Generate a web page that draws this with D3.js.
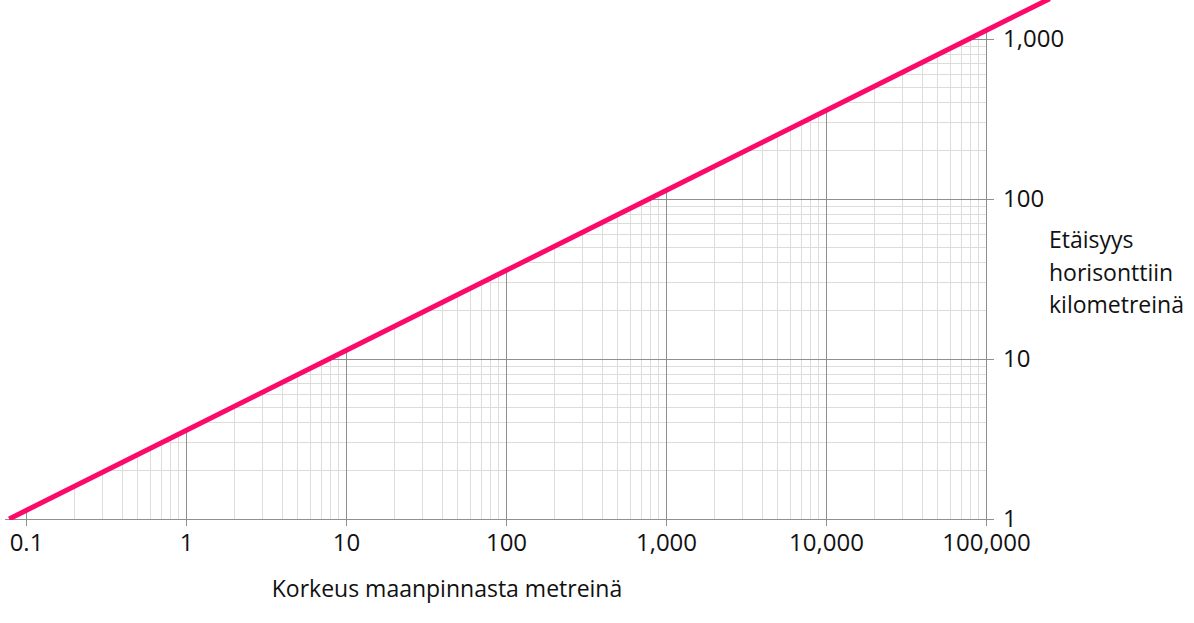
<!DOCTYPE html>
<html>
<head>
<meta charset="utf-8">
<script src="https://cdn.jsdelivr.net/npm/d3@7"></script>
<style>
  html, body { margin: 0; padding: 0; background: #fff; }
  svg { display: block; }
  text { font-family: "Open Sans", "Noto Sans", sans-serif; fill: #111; }
</style>
</head>
<body>
<svg id="chart" width="1194" height="623"></svg>
<script>
// ---- data ----
const heightsM    = [0.0785, 0.1, 1, 10, 100, 1000, 10000, 100000, 250000];
const distancesKm = [1, 1.13, 3.57, 11.3, 35.7, 113, 357, 1129, 1785];
const xTickValues = [0.1, 1, 10, 100, 1000, 10000, 100000];
const yTickValues = [1, 10, 100, 1000];
const xMinorValues = [];
[0.1, 1, 10, 100, 1000, 10000].forEach(d => { for (let k = 2; k <= 9; k++) xMinorValues.push(d * k); });
const yMinorValues = [];
[1, 10, 100].forEach(d => { for (let k = 2; k <= 9; k++) yMinorValues.push(d * k); });
const xTitle = "Korkeus maanpinnasta metreinä";
const yTitleLines = ["Etäisyys", "horisonttiin", "kilometreinä"];

// ---- scales ----
const svg = d3.select("#chart");
const x = d3.scaleLog().domain([0.1, 100000]).range([26, 986]);
const y = d3.scaleLog().domain([1, 1000]).range([519, 39]);
const x0 = x(0.1), xR = x(100000), yB = y(1), yT = y(1000);

// ---- clip: region below the curve ----
const linePts = heightsM.map((h, i) => [x(h), y(distancesKm[i])]);
const clipPts = linePts.concat([[1194, 0], [1194, yB + 20], [linePts[0][0], yB + 20]]);
const defs = svg.append("defs");
defs.append("clipPath").attr("id", "under")
  .append("path").attr("d", "M" + clipPts.map(p => p.join(",")).join("L") + "Z");
defs.append("clipPath").attr("id", "lineclip")
  .append("rect").attr("x", 0).attr("y", 0).attr("width", 1194).attr("height", yB + 1);

const grid = svg.append("g").attr("clip-path", "url(#under)");
const minorCol = "#dcdcdc", majorCol = "#8f8f8f";

// minor verticals
grid.selectAll(".vmin").data(xMinorValues).join("line")
  .attr("x1", d => x(d)).attr("x2", d => x(d))
  .attr("y1", yB).attr("y2", 0)
  .attr("stroke", minorCol).attr("stroke-width", 1).attr("shape-rendering", "crispEdges");
// minor horizontals
grid.selectAll(".hmin").data(yMinorValues).join("line")
  .attr("x1", 0).attr("x2", xR)
  .attr("y1", d => y(d)).attr("y2", d => y(d))
  .attr("stroke", minorCol).attr("stroke-width", 1).attr("shape-rendering", "crispEdges");
// major verticals
grid.selectAll(".vmaj").data(xTickValues).join("line")
  .attr("x1", d => x(d)).attr("x2", d => x(d))
  .attr("y1", yB).attr("y2", 0)
  .attr("stroke", majorCol).attr("stroke-width", 1).attr("shape-rendering", "crispEdges");
// major horizontals
grid.selectAll(".hmaj").data(yTickValues.slice(1)).join("line")
  .attr("x1", 0).attr("x2", xR)
  .attr("y1", d => y(d)).attr("y2", d => y(d))
  .attr("stroke", majorCol).attr("stroke-width", 1).attr("shape-rendering", "crispEdges");

// ---- axes ----
const fmt = d3.format(",");
const xAxis = d3.axisBottom(x).tickValues(xTickValues).tickFormat(fmt)
  .tickSizeInner(7).tickSizeOuter(0).tickPadding(8);
const gx = svg.append("g").attr("transform", `translate(0,${yB})`).call(xAxis);
gx.select(".domain").remove();
gx.selectAll(".tick line").attr("stroke", majorCol).attr("shape-rendering", "crispEdges");
gx.selectAll(".tick text").attr("font-size", 24).attr("fill", "#111")
  .attr("font-family", '"Open Sans", "Noto Sans", sans-serif');

const yAxis = d3.axisRight(y).tickValues(yTickValues).tickFormat(fmt)
  .tickSizeInner(8).tickSizeOuter(0).tickPadding(9);
const gy = svg.append("g").attr("transform", `translate(${xR},0)`).call(yAxis);
gy.select(".domain").remove();
gy.selectAll(".tick line").attr("stroke", majorCol).attr("shape-rendering", "crispEdges");
gy.selectAll(".tick text").attr("font-size", 24).attr("fill", "#111")
  .attr("font-family", '"Open Sans", "Noto Sans", sans-serif');

// axis lines
svg.append("line").attr("x1", linePts[0][0] - 4).attr("x2", xR + 8)
  .attr("y1", yB).attr("y2", yB).attr("stroke", majorCol).attr("shape-rendering", "crispEdges");
svg.append("line").attr("x1", xR).attr("x2", xR)
  .attr("y1", yT).attr("y2", yB + 7).attr("stroke", majorCol).attr("shape-rendering", "crispEdges");

// ---- curve ----
svg.append("path")
  .datum(heightsM.map((h, i) => [h, distancesKm[i]]))
  .attr("clip-path", "url(#lineclip)")
  .attr("fill", "none").attr("stroke", "#fc0a6a").attr("stroke-width", 5)
  .attr("d", d3.line().x(d => x(d[0])).y(d => y(d[1])));

// ---- titles ----
svg.append("text").attr("x", 447).attr("y", 597).attr("text-anchor", "middle")
  .attr("font-size", 23).text(xTitle);
const yt = svg.append("text").attr("x", 1049).attr("y", 248).attr("font-size", 23);
yTitleLines.forEach((t, i) => yt.append("tspan").attr("x", 1049).attr("y", 248 + i * 32.5).text(t));
</script>
</body>
</html>
